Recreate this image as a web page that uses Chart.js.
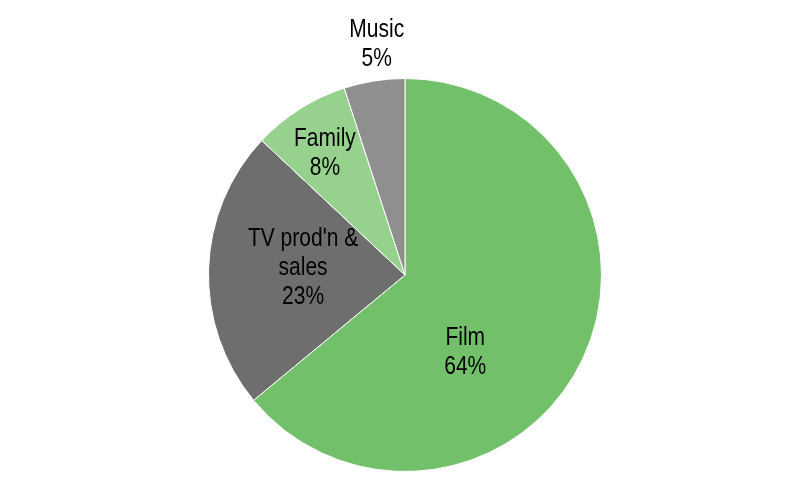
<!DOCTYPE html>
<html>
<head>
<meta charset="utf-8">
<script src="https://cdn.jsdelivr.net/npm/chart.js@4"></script>
<style>
  html, body { margin: 0; padding: 0; background: #fff; }
  #wrap { width: 800px; height: 483px; }
</style>
</head>
<body>
<div id="wrap"><canvas id="pieChart"></canvas></div>
<script>
// Revenue split by segment
const segments = ['Film', "TV prod'n & sales", 'Family', 'Music'];
const labelLines = [['Film'], ["TV prod'n &", 'sales'], ['Family'], ['Music']];
const shares = [64, 23, 8, 5];
const colours = ['#73c06b', '#6e6e6e', '#96d28e', '#8f8f8f'];

// where each label sits: fraction of radius and angle nudge (degrees)
const labelSpots = [
  { r: 0.50, nudge: 27 },
  { r: 0.52, nudge: 2 },
  { r: 0.74, nudge: -1 },
  { r: 1.18, nudge: 2 }
];

const sliceLabels = {
  id: 'sliceLabels',
  afterDatasetsDraw(chart) {
    const ctx = chart.ctx;
    const meta = chart.getDatasetMeta(0);
    ctx.save();
    ctx.fillStyle = '#000';
    ctx.font = '25px "Liberation Sans", Arial, sans-serif';
    ctx.textAlign = 'center';
    ctx.textBaseline = 'middle';
    const lh = 29;
    meta.data.forEach((arc, i) => {
      const p = arc.getProps(['x', 'y', 'startAngle', 'endAngle', 'outerRadius'], true);
      const spot = labelSpots[i];
      const mid = (p.startAngle + p.endAngle) / 2 + spot.nudge * Math.PI / 180;
      const rr = p.outerRadius * spot.r;
      const cx = p.x + Math.cos(mid) * rr;
      const cy = p.y + Math.sin(mid) * rr;
      const lines = labelLines[i].concat([shares[i] + '%']);
      const top = cy - (lines.length - 1) * lh / 2;
      lines.forEach((t, k) => {
        ctx.save();
        ctx.translate(cx, top + k * lh);
        ctx.scale(0.84, 1); // narrow face like the original
        ctx.fillText(t, 0, 0);
        ctx.restore();
      });
    });
    ctx.restore();
  }
};

new Chart(document.getElementById('pieChart'), {
  type: 'pie',
  data: {
    labels: segments,
    datasets: [{
      data: shares,
      backgroundColor: colours,
      borderColor: '#ffffff',
      borderWidth: 1
    }]
  },
  options: {
    responsive: true,
    maintainAspectRatio: false,
    animation: false,
    layout: { padding: { top: 78, bottom: 11, left: 10, right: 0 } },
    plugins: {
      legend: { display: false },
      tooltip: { enabled: false }
    }
  },
  plugins: [sliceLabels]
});
</script>
</body>
</html>
